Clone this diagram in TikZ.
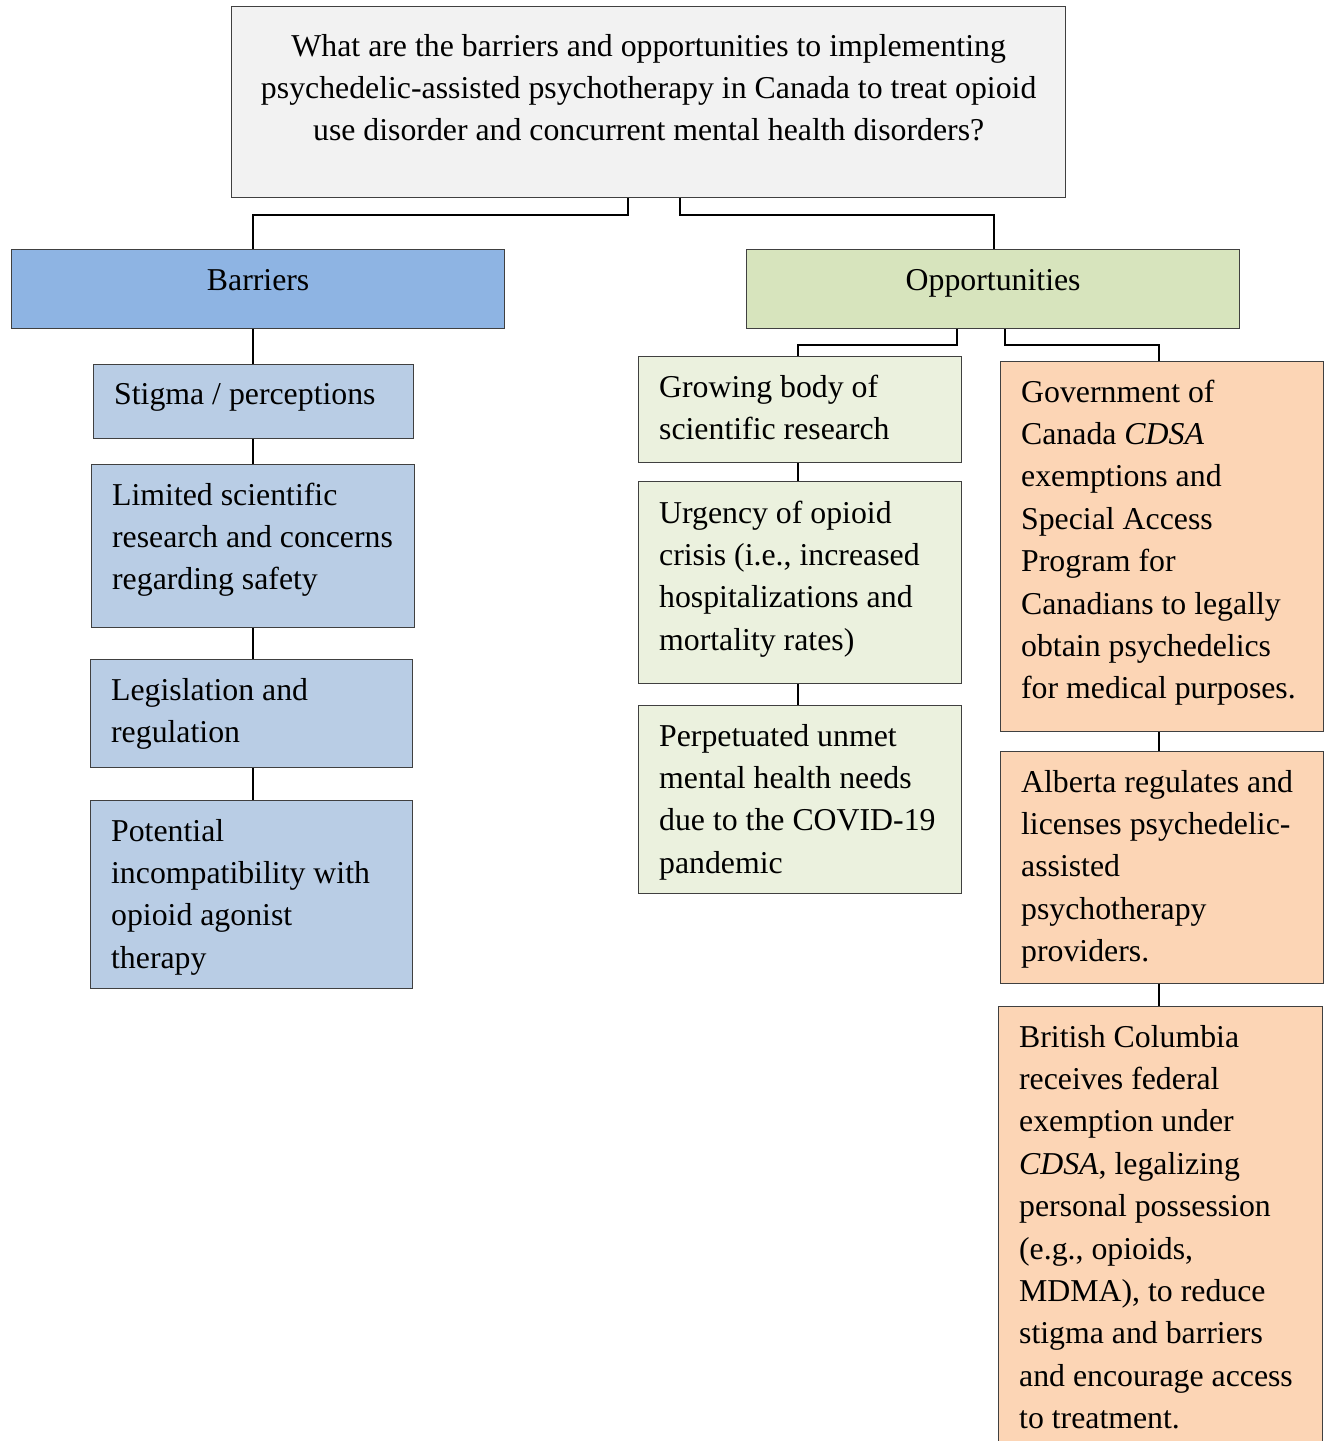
\documentclass[tikz,border=0pt]{standalone}
\usepackage{fontspec}
\setmainfont{Liberation Serif}
\definecolor{topfill}{HTML}{F2F2F2}
\definecolor{barfill}{HTML}{8EB4E3}
\definecolor{oppfill}{HTML}{D7E4BD}
\definecolor{bluefill}{HTML}{B9CDE5}
\definecolor{greenfill}{HTML}{EBF1DE}
\definecolor{orangefill}{HTML}{FCD5B5}
\definecolor{edgegray}{HTML}{404040}
% #1 width, #2 height, #3 first-baseline offset, #4 alignment setup, #5 text
\newcommand\boxtext[5]{\begin{minipage}[c][#2pt][t]{#1pt}#4\rule{0pt}{#3pt}#5\end{minipage}}
\newcommand\leftpad{\raggedright\leftskip=20.5pt\relax}
\newcommand\midpad{\centering}
\tikzset{
  bx/.style={draw=edgegray, line width=1.3pt, inner sep=0pt, anchor=north west,
    font=\fontsize{31.8}{42.4}\selectfont},
  link/.style={draw=black, line width=1.7pt}
}
\begin{document}
\begin{tikzpicture}[x=1pt,y=-1pt]
\useasboundingbox (0,0) rectangle (1325,1441);
\clip (0,0) rectangle (1325,1441);
\node[bx, fill=topfill, minimum width=834pt, minimum height=191pt] (top) at (231,6)
  {\boxtext{834}{191}{49.5}{\midpad}{What are the barriers and opportunities to implementing\\psychedelic-assisted psychotherapy in Canada to treat opioid\\use disorder and concurrent mental health disorders?}};
\node[bx, fill=barfill, minimum width=493pt, minimum height=79pt] (bar) at (11,249)
  {\boxtext{493}{79}{41}{\midpad}{Barriers}};
\node[bx, fill=oppfill, minimum width=493pt, minimum height=79pt] (opp) at (746,249)
  {\boxtext{493}{79}{41}{\midpad}{Opportunities}};
% barriers column
\node[bx, fill=bluefill, minimum width=320pt, minimum height=74pt] (stig) at (93,364)
  {\boxtext{320}{74}{39.5}{\leftpad}{Stigma / perceptions}};
\node[bx, fill=bluefill, minimum width=323pt, minimum height=163pt] (lim) at (91,464)
  {\boxtext{323}{163}{40.5}{\leftpad}{Limited scientific\\research and concerns\\regarding safety}};
\node[bx, fill=bluefill, minimum width=322pt, minimum height=108pt] (leg) at (90,659)
  {\boxtext{322}{108}{40.5}{\leftpad}{Legislation and\\regulation}};
\node[bx, fill=bluefill, minimum width=322pt, minimum height=188pt] (pot) at (90,800)
  {\boxtext{322}{188}{40.5}{\leftpad}{Potential\\incompatibility with\\opioid agonist\\therapy}};
% opportunities, left column
\node[bx, fill=greenfill, minimum width=323pt, minimum height=106pt] (grow) at (638,356)
  {\boxtext{323}{106}{40.5}{\leftpad}{Growing body of\\scientific research}};
\node[bx, fill=greenfill, minimum width=323pt, minimum height=202pt] (urg) at (638,481)
  {\boxtext{323}{202}{41.5}{\leftpad}{Urgency of opioid\\crisis (i.e., increased\\hospitalizations and\\mortality rates)}};
\node[bx, fill=greenfill, minimum width=323pt, minimum height=188pt] (perp) at (638,705)
  {\boxtext{323}{188}{40.5}{\leftpad}{Perpetuated unmet\\mental health needs\\due to the COVID-19\\pandemic}};
% opportunities, right column
\node[bx, fill=orangefill, minimum width=323pt, minimum height=370pt] (gov) at (1000,361)
  {\boxtext{323}{370}{40.5}{\leftpad}{Government of\\Canada \textit{CDSA}\\exemptions and\\Special Access\\Program for\\Canadians to legally\\obtain psychedelics\\for medical purposes.}};
\node[bx, fill=orangefill, minimum width=323pt, minimum height=232pt] (alb) at (1000,751)
  {\boxtext{323}{232}{40.5}{\leftpad}{Alberta regulates and\\licenses psychedelic-\\assisted\\psychotherapy\\providers.}};
\node[bx, fill=orangefill, minimum width=324pt, minimum height=470pt] (bc) at (998,1006)
  {\boxtext{324}{470}{40.5}{\leftpad}{British Columbia\\receives federal\\exemption under\\\textit{CDSA}, legalizing\\personal possession\\(e.g., opioids,\\MDMA), to reduce\\stigma and barriers\\and encourage access\\to treatment.}};
% connectors
\draw[link] ([xshift=-21pt]top.south) -- ++(0,17) -| ([xshift=-5.5pt]bar.north);
\draw[link] ([xshift=31pt]top.south) -- ++(0,17) -| ([xshift=0.5pt]opp.north);
\draw[link] ([xshift=-5.5pt]bar.south) -- ([xshift=-5.5pt]bar.south |- stig.north);
\draw[link] ([xshift=-1pt]stig.south) -- ([xshift=-1pt]stig.south |- lim.north);
\draw[link] ([xshift=-0.5pt]lim.south) -- ([xshift=-0.5pt]lim.south |- leg.north);
\draw[link] ([xshift=1pt]leg.south) -- ([xshift=1pt]leg.south |- pot.north);
\draw[link] ([xshift=-36.5pt]opp.south) -- ++(0,16) -| ([xshift=-2.5pt]grow.north);
\draw[link] ([xshift=11.5pt]opp.south) -- ++(0,16) -| ([xshift=-3.5pt]gov.north);
\draw[link] ([xshift=-2.5pt]grow.south) -- ([xshift=-2.5pt]grow.south |- urg.north);
\draw[link] ([xshift=-2.5pt]urg.south) -- ([xshift=-2.5pt]urg.south |- perp.north);
\draw[link] ([xshift=-3.5pt]gov.south) -- ([xshift=-3.5pt]gov.south |- alb.north);
\draw[link] ([xshift=-3.5pt]alb.south) -- ([xshift=-3.5pt]alb.south |- bc.north);
\end{tikzpicture}
\end{document}
